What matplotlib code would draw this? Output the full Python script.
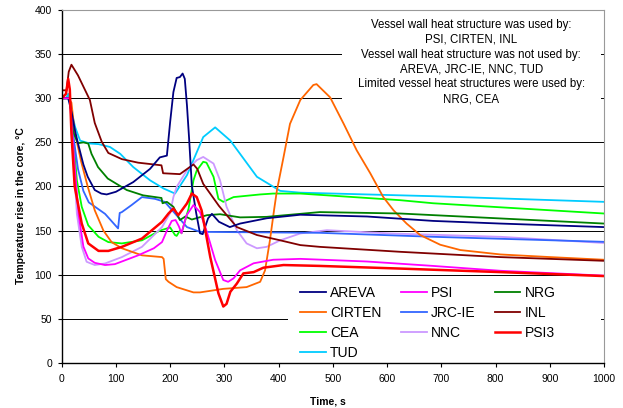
import matplotlib
matplotlib.use("Agg")
import matplotlib.pyplot as plt
from matplotlib.patches import Rectangle

plt.rcParams['font.family'] = ['Liberation Sans', 'DejaVu Sans']

# === DATA ===
AREVA_T = [0, 12, 18, 25, 30, 40, 48, 61, 73, 83, 100, 132, 163, 181, 194, 200, 206, 212, 218, 223,
           227, 231, 235, 240, 248, 255, 260, 270, 277, 290, 310, 329, 378, 440, 563, 685, 809, 1000]
AREVA_V = [300, 300, 285, 262, 249, 225, 211, 196, 192, 191, 194, 205, 220, 233, 235, 273, 307, 323, 324, 328,
           322, 292, 254, 201, 170, 147, 146, 164, 169, 160, 154, 158, 164, 168, 166, 161, 158, 154]

CIRTEN_T = [0, 12, 18, 24, 36, 48, 61, 77, 92, 111, 148, 185, 188, 192, 197, 212, 243, 255, 298, 341, 366,
            375, 384, 392, 397, 409, 421, 440, 464, 470, 495, 520, 544, 569, 593, 612, 636, 661, 698, 735,
            809, 901, 1000]
CIRTEN_V = [300, 300, 295, 262, 228, 200, 173, 150, 137, 130, 122, 120, 118, 95, 92, 86, 80, 80, 84, 86, 92,
            105, 139, 175, 196, 233, 271, 298, 315, 316, 301, 271, 241, 215, 188, 173, 158, 145, 134, 128,
            123, 120, 117]

CEA_T = [0, 15, 21, 28, 37, 49, 68, 86, 111, 148, 181, 200, 209, 212, 218, 221, 234, 243, 249, 261, 267,
         280, 289, 298, 317, 366, 390, 440, 624, 685, 1000]
CEA_V = [300, 300, 260, 207, 177, 156, 143, 137, 135.5, 139, 150, 153.6, 145, 144, 150, 147, 175, 207, 218,
         228, 227, 211, 186, 182.6, 188, 191, 192, 192, 184.5, 181, 169.4]

TUD_T = [0, 8, 12, 18, 25, 34, 52, 68, 89, 108, 132, 163, 188, 209, 231, 261, 283, 311, 360, 403, 440, 685, 1000]
TUD_V = [300, 300, 305, 285, 267, 252, 248.7, 248, 244.8, 237, 222, 207, 197.7, 192, 212.8, 256, 267, 252,
         211, 195, 193, 189, 182.6]

PSI_T = [0, 15, 22, 31, 40, 49, 61, 80, 98, 141, 170, 185, 194, 203, 210, 216, 221, 230, 243, 255, 267,
         283, 298, 307, 317, 329, 354, 390, 440, 563, 685, 809, 1000]
PSI_V = [300, 300, 240, 169, 132, 118.5, 113.5, 111, 112, 122, 130, 137, 150, 161, 162, 155, 147, 167, 179,
         171, 150, 116.6, 94, 92, 96, 105, 113, 117, 118, 115, 110, 104.5, 99]

PSI3_T = [0, 8, 12, 15, 18, 24, 37, 49, 68, 86, 111, 148, 185, 197, 206, 215, 231, 240, 249, 258, 274,
          289, 298, 304, 311, 323, 335, 354, 372, 409, 476, 624, 809, 1000]
PSI3_V = [300, 305, 322, 310, 260, 200, 158, 135.5, 127, 127, 131.6, 141, 160, 169.4, 175, 167.5, 180.8,
          192, 188, 173, 120, 79, 64, 67, 80.7, 90, 101.5, 103, 108, 111, 110, 107, 103, 98.5]

JRC_T = [0, 15, 22, 30, 40, 50, 80, 104, 107, 111, 129, 148, 172, 190, 209, 231, 255, 476, 685, 1000]
JRC_V = [300, 300, 255, 220, 195, 182, 169, 152.5, 170, 171, 179, 188, 186, 182.6, 169.4, 154, 148.6,
         147.5, 143, 137.3]

NNC_T = [0, 15, 21, 28, 37, 46, 61, 80, 111, 148, 185, 200, 206, 212, 231, 249, 261, 280, 292, 304, 323,
         341, 360, 378, 403, 440, 489, 606, 809, 1000]
NNC_V = [300, 300, 240, 169, 131.6, 114.7, 111, 112.8, 120, 131.6, 154, 170, 188, 199.6, 218.4, 229.8,
         233.5, 226, 207, 177, 150.5, 135.5, 130, 131.6, 139, 146.8, 150.5, 146.8, 143, 136]

NRG_T = [0, 15, 21, 30, 40, 49, 55, 67, 85, 120, 150, 184, 186, 194, 206, 218, 228, 240, 268, 292, 329,
         378, 476, 624, 809, 1000]
NRG_V = [300, 300, 262, 249, 250, 248.7, 237, 222, 209, 196, 190, 187, 181, 182.6, 177, 162, 166, 162.6,
         167.5, 168.6, 165, 165.6, 171, 169.4, 163.8, 158]

INL_T = [0, 9, 13, 18, 30, 52, 61, 74, 86, 111, 141, 184, 187, 218, 243, 250, 261, 290, 323, 360, 403,
         440, 476, 624, 809, 1000]
INL_V = [309, 309, 330, 338, 326, 298, 272, 250.5, 238, 231, 227, 224, 215, 214, 225, 220, 203, 178, 154,
         145, 139, 133.6, 131.6, 126, 120, 115.8]

NOTE = ("Vessel wall heat structure was used by:\nPSI, CIRTEN, INL\n"
        "Vessel wall heat structure was not used by:\nAREVA, JRC-IE, NNC, TUD\n"
        "Limited vessel heat structures were used by:\nNRG, CEA")

# (label, times, values, colour, width) - drawn in this order
series = [
    ("TUD", TUD_T, TUD_V, "#00CCFF", 1.3),
    ("CEA", CEA_T, CEA_V, "#00FF00", 1.3),
    ("NNC", NNC_T, NNC_V, "#CC99FF", 1.3),
    ("JRC-IE", JRC_T, JRC_V, "#3366FF", 1.3),
    ("CIRTEN", CIRTEN_T, CIRTEN_V, "#FF6600", 1.3),
    ("NRG", NRG_T, NRG_V, "#008000", 1.3),
    ("INL", INL_T, INL_V, "#800000", 1.3),
    ("AREVA", AREVA_T, AREVA_V, "#000080", 1.3),
    ("PSI", PSI_T, PSI_V, "#FF00FF", 1.3),
    ("PSI3", PSI3_T, PSI3_V, "#FF0000", 1.8),
]
LEGEND_ORDER = ["AREVA", "CIRTEN", "CEA", "TUD", "PSI", "JRC-IE", "NNC", "NRG", "INL", "PSI3"]

fig = plt.figure(figsize=(6.23, 4.08), dpi=100)
ax = fig.add_axes([0.099, 0.1103, 0.8705, 0.8652])

handles = {}
for label, t, v, col, lw in series:
    line, = ax.plot(t, v, color=col, lw=lw, label=label, zorder=2)
    handles[label] = line

ax.set_xlim(0, 1000)
ax.set_ylim(0, 400)
ax.set_xticks(range(0, 1001, 100))
ax.set_yticks(range(0, 401, 50))
ax.yaxis.grid(True, color="black", lw=0.7, zorder=1)
ax.tick_params(labelsize=7.5, length=3, width=0.8, direction="out")
ax.tick_params(axis="x", pad=5)
ax.tick_params(axis="y", pad=4)
for side in ("top", "right"):
    ax.spines[side].set_color("#999999")
for side in ("left", "bottom"):
    ax.spines[side].set_linewidth(1.0)

ax.set_xlabel("Time, s", fontsize=7.5, fontweight="bold")
ax.xaxis.set_label_coords(0.491, -0.096)
ax.set_ylabel("Temperature rise in the core, °C", fontsize=7.5, fontweight="bold")
ax.yaxis.set_label_coords(-0.066, 0.447)

# white boxes that hide the grid behind the note and the legend
ax.add_patch(Rectangle((0.517, 0.72), 0.478, 0.277, transform=ax.transAxes,
                       facecolor="white", edgecolor="none", zorder=1.8))
ax.add_patch(Rectangle((0.4175, 0.006), 0.5775, 0.232, transform=ax.transAxes,
                       facecolor="white", edgecolor="none", zorder=1.8))

ax.text(0.755, 0.975, NOTE, transform=ax.transAxes, ha="center", va="top",
        fontsize=8.3, linespacing=1.32, zorder=3)

leg = ax.legend([handles[k] for k in LEGEND_ORDER], LEGEND_ORDER, ncol=3,
                loc="upper left", bbox_to_anchor=(0.4397, 0.219), frameon=False,
                fontsize=10, handlelength=1.85, handletextpad=0.3, columnspacing=1.4,
                labelspacing=0.43, borderpad=0, borderaxespad=0)

fig.savefig("out.png", dpi=100)
